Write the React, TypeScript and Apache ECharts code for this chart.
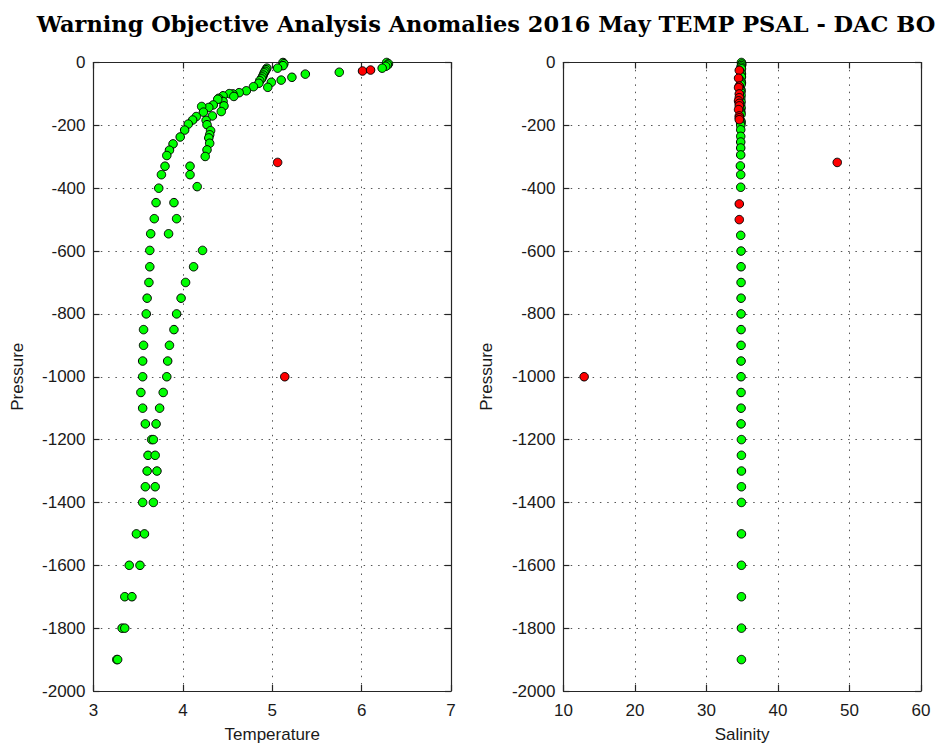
import React, { useEffect, useRef } from "react";
import * as echarts from "echarts";

const titleText = "Warning Objective Analysis Anomalies 2016 May TEMP PSAL - DAC BO";

const tempTicks = [3, 4, 5, 6, 7];
const salTicks = [10, 20, 30, 40, 50, 60];
const presRange = [-2000, 0];

// Temperature (green = good)
const tempGreenT = [
  6.28, 6.3, 6.29, 6.27, 6.23, 5.75, 5.37, 5.22, 5.1, 4.99, 4.95,
  5.12, 5.13, 5.12, 5.06, 4.94, 4.93, 4.92, 4.91, 4.9, 4.89, 4.88, 4.86, 4.85,
  4.79, 4.71, 4.63, 4.56, 4.52, 4.45, 4.4, 4.57, 4.45, 4.46, 4.43, 4.39, 4.34, 4.29, 4.21,
  4.33, 4.23, 4.15, 4.11, 4.06, 4.02, 3.97, 3.89, 3.85, 3.82, 3.8, 3.76, 3.73, 3.7, 3.68, 3.64, 3.63,
  4.26, 4.27, 4.31, 4.3, 4.29, 4.3, 4.27, 4.25, 4.08, 4.08, 4.16, 3.9, 3.93, 3.84, 4.22,
  3.63, 4.12, 3.62, 4.03, 3.6, 3.98, 3.59, 3.93, 3.56, 3.9, 3.56, 3.85, 3.55, 3.83, 3.55, 3.82,
  3.53, 3.78, 3.55, 3.74, 3.58, 3.7, 3.65, 3.67, 3.61, 3.69, 3.6, 3.71, 3.58, 3.69, 3.55, 3.67,
  3.48, 3.57, 3.4, 3.52, 3.35, 3.43, 3.32, 3.35, 3.26, 3.27,
];
const tempGreenP = [
  0, -4, -8, -12, -18, -31, -37, -47, -56, -63, -79,
  0, -4, -10, -18, -18, -23, -28, -33, -40, -46, -52, -58, -66,
  -77, -90, -96, -100, -99, -106, -114, -108, -124, -138, -156, -117, -135, -143, -140,
  -170, -158, -172, -183, -196, -215, -237, -259, -279, -296, -330, -357, -400, -446, -497, -545, -598,
  -184, -198, -217, -230, -240, -257, -278, -299, -330, -357, -395, -446, -497, -545, -598,
  -650, -650, -700, -700, -750, -750, -800, -800, -850, -850, -900, -900, -950, -950, -1000, -1000,
  -1050, -1050, -1100, -1100, -1150, -1150, -1200, -1200, -1250, -1250, -1300, -1300, -1350, -1350, -1400, -1400,
  -1500, -1500, -1600, -1600, -1700, -1700, -1800, -1800, -1900, -1900,
];
// Temperature (red = anomaly)
const tempRedT = [6.01, 6.1, 5.06, 5.14];
const tempRedP = [-27, -24, -318, -1000];

// Salinity (green = good)
const salGreenS = [
  34.9, 34.95, 34.9, 34.85, 34.9, 34.85, 34.9, 34.85, 34.9, 34.85, 34.9, 34.85, 34.8, 34.85, 34.8,
  34.85, 34.8, 34.85, 34.8, 34.85, 34.8, 34.8, 34.85, 34.8, 34.85, 34.8, 34.8,
  34.8, 34.8, 34.8, 34.8, 34.8, 34.75, 34.8, 34.8,
  34.8, 34.85, 34.85, 34.85, 34.85, 34.85, 34.85, 34.85, 34.85, 34.85, 34.85,
  34.85, 34.85, 34.9, 34.9, 34.9, 34.9, 34.9, 34.9,
  34.9, 34.9, 34.9, 34.9, 34.9, 34.9,
];
const salGreenP = [
  0, -5, -10, -15, -20, -32, -36, -42, -46, -60, -65, -70, -85, -90, -95,
  -105, -115, -125, -135, -145, -155, -160, -165, -185, -190, -195, -200,
  -214, -235, -253, -272, -294, -329, -357, -397,
  -550, -600, -650, -700, -750, -800, -850, -900, -950, -1000, -1050,
  -1100, -1150, -1200, -1250, -1300, -1350,
  -1400, -1500, -1600, -1700, -1800, -1900,
];
// Salinity (red = anomaly)
const salRedS = [
  34.6, 34.5, 34.6, 34.5, 34.6, 34.6, 34.5, 34.6, 34.6, 34.5, 34.6, 34.6, 34.6, 34.6, 34.6,
  48.3, 12.9,
];
const salRedP = [
  -25, -50, -75, -80, -100, -112, -122, -130, -138, -150, -170, -176, -182, -450, -500,
  -318, -1000,
];

const zip = (a: number[], b: number[]) => a.map((v, i) => [v, b[i]]);

const AX = "#262626";
const LABEL_FONT = "Liberation Sans";
const plain = (v: number) => String(v);

function makeAxes(gridIndex: number, ticks: number[], name: string) {
  const min = ticks[0];
  const max = ticks[ticks.length - 1];
  const interval = ticks[1] - ticks[0];
  const lineStyle = { color: AX, width: 1.2 };
  const x = [
    {
      gridIndex,
      type: "value",
      min,
      max,
      interval,
      position: "bottom",
      name,
      nameLocation: "middle",
      nameGap: 35,
      nameTextStyle: { fontFamily: LABEL_FONT, fontSize: 17, color: "#1a1a1a" },
      axisLine: { show: true, onZero: false, lineStyle },
      axisTick: { show: true, inside: true, length: 6, lineStyle },
      axisLabel: { margin: 11, fontFamily: LABEL_FONT, fontSize: 17, color: "#1a1a1a", formatter: plain },
      splitLine: { show: true, lineStyle: { color: "#555", width: 1, type: [1.5, 5.8] } },
    },
    {
      gridIndex,
      type: "value",
      min,
      max,
      interval,
      position: "top",
      axisLine: { show: true, onZero: false, lineStyle },
      axisTick: { show: true, inside: true, length: 6, lineStyle },
      axisLabel: { show: false },
      splitLine: { show: false },
    },
  ];
  const y = [
    {
      gridIndex,
      type: "value",
      min: presRange[0],
      max: presRange[1],
      interval: 200,
      position: "left",
      name: "Pressure",
      nameLocation: "middle",
      nameGap: 68,
      nameTextStyle: { fontFamily: LABEL_FONT, fontSize: 17, color: "#1a1a1a" },
      axisLine: { show: true, onZero: false, lineStyle },
      axisTick: { show: true, inside: true, length: 6, lineStyle },
      axisLabel: { margin: 8, fontFamily: LABEL_FONT, fontSize: 17, color: "#1a1a1a", formatter: plain },
      splitLine: { show: true, lineStyle: { color: "#555", width: 1, type: [1.5, 5.8] } },
    },
    {
      gridIndex,
      type: "value",
      min: presRange[0],
      max: presRange[1],
      interval: 200,
      position: "right",
      axisLine: { show: true, onZero: false, lineStyle },
      axisTick: { show: true, inside: true, length: 6, lineStyle },
      axisLabel: { show: false },
      splitLine: { show: false },
    },
  ];
  return { x, y };
}

export default function App() {
  const ref = useRef<HTMLDivElement>(null);
  useEffect(() => {
    if (!ref.current) return;
    const chart = echarts.init(ref.current, null, { renderer: "svg" });
    const a0 = makeAxes(0, tempTicks, "Temperature");
    const a1 = makeAxes(1, salTicks, "Salinity");
    const dot = (color: string) => ({
      color,
      borderColor: "#000",
      borderWidth: 1,
      opacity: 1,
    });
    chart.setOption({
      animation: false,
      backgroundColor: "#fff",
      grid: [
        { left: 93.5, top: 62.5, width: 357.5, height: 630 },
        { left: 563.4, top: 62.5, width: 357.5, height: 630 },
      ],
      xAxis: [...a0.x, ...a1.x],
      yAxis: [...a0.y, ...a1.y],
      graphic: [
        {
          type: "text",
          x: 486,
          y: 24,
          style: {
            text: titleText,
            font: 'bold 22.5px "DejaVu Serif"',
            fill: "#000",
            textAlign: "center",
            textVerticalAlign: "middle",
            align: "center",
            verticalAlign: "middle",
          },
        },
      ],
      series: [
        {
          type: "scatter",
          xAxisIndex: 0,
          yAxisIndex: 0,
          symbolSize: 8.5,
          itemStyle: dot("#00ff00"),
          data: zip(tempGreenT, tempGreenP),
        },
        {
          type: "scatter",
          xAxisIndex: 0,
          yAxisIndex: 0,
          symbolSize: 8.5,
          itemStyle: dot("#ff0000"),
          data: zip(tempRedT, tempRedP),
        },
        {
          type: "scatter",
          xAxisIndex: 2,
          yAxisIndex: 2,
          symbolSize: 8.5,
          itemStyle: dot("#00ff00"),
          data: zip(salGreenS, salGreenP),
        },
        {
          type: "scatter",
          xAxisIndex: 2,
          yAxisIndex: 2,
          symbolSize: 8.5,
          itemStyle: dot("#ff0000"),
          data: zip(salRedS, salRedP),
        },
      ],
    });
    return () => chart.dispose();
  }, []);
  return (
    <div
      ref={ref}
      style={{ position: "fixed", left: 0, top: 0, width: 939, height: 748, background: "#fff" }}
    />
  );
}
